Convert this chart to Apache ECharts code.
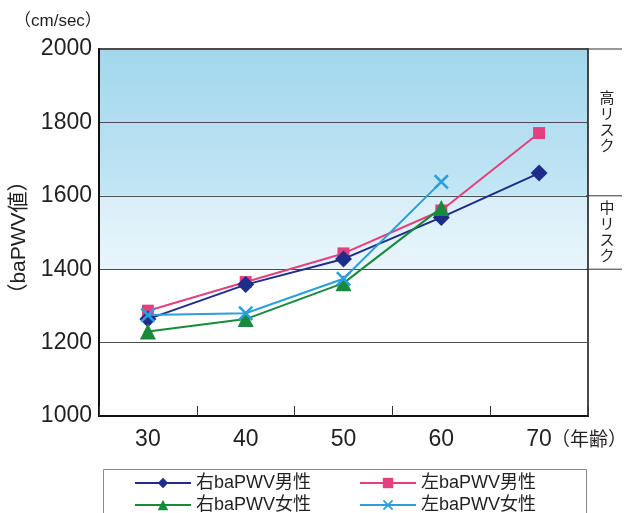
<!DOCTYPE html>
<html>
<head>
<meta charset="utf-8">
<script src="https://cdn.jsdelivr.net/npm/echarts@6/dist/echarts.min.js"></script>
<style>
  html, body { margin: 0; padding: 0; background: #ffffff; }
  #chart { width: 624px; height: 513px; }
</style>
</head>
<body>
<div id="chart"></div>
<script>
// Age groups (x categories)
const ages = ['30', '40', '50', '60', '70'];

// baPWV averages (cm/sec) by age group
const rightMale = [1264, 1358, 1428, 1541, 1662];
const leftMale = [1287, 1365, 1443, 1560, 1771];
const rightFemale = [1230, 1264, 1362, 1567, null];
const leftFemale = [1275, 1280, 1374, 1638, null];

const seriesNames = ['右baPWV男性', '左baPWV男性', '右baPWV女性', '左baPWV女性'];

// Risk zone boundaries and labels
const highRisk = [1600, 2000];
const midRisk = [1400, 1600];
const zoneLabels = ['高リスク', '中リスク'];

const FONT = '"Liberation Sans", "Noto Sans CJK JP", sans-serif';
const TEXT = '#231f20';

const crossPath = 'path://M0,1.2 L1.2,0 L10,8.8 L8.8,10 Z M8.8,0 L10,1.2 L1.2,10 L0,8.8 Z';

const chart = echarts.init(document.getElementById('chart'), null, { renderer: 'canvas' });

function lineSeries(name, data, color, symbol, size, extra) {
  return Object.assign({
    name: name,
    type: 'line',
    data: data,
    symbol: symbol,
    symbolSize: size,
    showAllSymbol: true,
    connectNulls: false,
    lineStyle: { color: color, width: 2 },
    itemStyle: { color: color },
    emphasis: { disabled: true }
  }, extra || {});
}

const legendCommon = {
  left: 134,
  itemWidth: 56,
  itemHeight: 13,
  itemGap: 48,
  padding: 0,
  textStyle: { fontFamily: FONT, fontSize: 18, color: TEXT, padding: [0, 0, 0, 0] },
  selectedMode: false
};

chart.setOption({
  animation: false,
  backgroundColor: '#ffffff',
  grid: {
    left: 99, right: 36, top: 49, bottom: 97,
    show: true, borderColor: '#111', borderWidth: 1.5, backgroundColor: 'transparent'
  },
  xAxis: {
    type: 'category',
    data: ages,
    boundaryGap: true,
    axisLine: { lineStyle: { color: '#111', width: 2 } },
    axisTick: { show: true, inside: true, length: 10, interval: 0, lineStyle: { color: '#333', width: 1 } },
    axisLabel: { fontFamily: FONT, fontSize: 23, color: TEXT, margin: 12 }
  },
  yAxis: {
    type: 'value',
    min: 1000, max: 2000, interval: 200,
    name: '（baPWV値）',
    nameLocation: 'middle',
    nameRotate: 90,
    nameGap: 64,
    nameTextStyle: { fontFamily: FONT, fontSize: 21, color: TEXT, padding: [0, 10, 0, 0] },
    axisLine: { show: true, lineStyle: { color: '#111', width: 2 } },
    axisTick: { show: false },
    axisLabel: { fontFamily: FONT, fontSize: 23, color: TEXT, margin: 7, formatter: v => String(v) },
    splitLine: { lineStyle: { color: '#4d4d4d', width: 1 } }
  },
  legend: [
    Object.assign({ top: 474, data: [seriesNames[0], seriesNames[1]] }, legendCommon),
    Object.assign({ top: 496, data: [seriesNames[2], seriesNames[3]] }, legendCommon)
  ],
  series: [
    // Risk-zone shading, kept beneath the grid lines
    {
      type: 'line',
      data: [],
      z: -1,
      silent: true,
      markArea: {
        z: -1,
        silent: true,
        data: [
          [{ yAxis: highRisk[0], itemStyle: {
              color: new echarts.graphic.LinearGradient(0, 0, 0, 1, [
                { offset: 0, color: '#a1d7ed' }, { offset: 1, color: '#c3e6f4' }
              ]) } }, { yAxis: highRisk[1] }],
          [{ yAxis: midRisk[0], itemStyle: {
              color: new echarts.graphic.LinearGradient(0, 0, 0, 1, [
                { offset: 0, color: '#d8eef8' }, { offset: 1, color: '#e9f6fb' }
              ]) } }, { yAxis: midRisk[1] }]
        ]
      }
    },
    lineSeries(seriesNames[0], rightMale, '#1f2d8a', 'diamond', 17, { z: 3 }),
    lineSeries(seriesNames[1], leftMale, '#e4407f', 'rect', 12, { z: 2 }),
    lineSeries(seriesNames[2], rightFemale, '#178a3b', 'triangle', 16, { z: 4 }),
    lineSeries(seriesNames[3], leftFemale, '#2a9fdb', crossPath, 15, { z: 5 })
  ]
});

// Side annotations: unit label, age label, risk zone separators and vertical zone labels
const yTop = chart.convertToPixel({ yAxisIndex: 0 }, highRisk[1]);
const yHighLow = chart.convertToPixel({ yAxisIndex: 0 }, highRisk[0]);
const yMidLow = chart.convertToPixel({ yAxisIndex: 0 }, midRisk[0]);
const xRight = chart.convertToPixel({ xAxisIndex: 0 }, ages[ages.length - 1]) + 47;
const yBottom = chart.convertToPixel({ yAxisIndex: 0 }, 1000);

function vertical(s) { return s.split('').join('\n'); }

chart.setOption({
  graphic: [
    { type: 'text', left: 14, top: 13,
      style: { text: '（cm/sec）', fontFamily: FONT, fontSize: 17, fill: TEXT } },
    { type: 'text', x: xRight - 35, y: yBottom + 25,
      style: { text: '（年齢）', fontFamily: FONT, fontSize: 19, fill: TEXT, verticalAlign: 'middle' } },
    { type: 'line', shape: { x1: xRight, y1: yTop, x2: 622, y2: yTop }, style: { stroke: '#333', lineWidth: 1 } },
    { type: 'line', shape: { x1: xRight, y1: yHighLow, x2: 622, y2: yHighLow }, style: { stroke: '#333', lineWidth: 1 } },
    { type: 'line', shape: { x1: xRight, y1: yMidLow, x2: 622, y2: yMidLow }, style: { stroke: '#333', lineWidth: 1 } },
    { type: 'text', x: 607, y: (yTop + yHighLow) / 2,
      style: { text: vertical(zoneLabels[0]), fontFamily: FONT, fontSize: 15, lineHeight: 16,
               fill: TEXT, align: 'center', verticalAlign: 'middle' } },
    { type: 'text', x: 607, y: (yHighLow + yMidLow) / 2,
      style: { text: vertical(zoneLabels[1]), fontFamily: FONT, fontSize: 15, lineHeight: 16,
               fill: TEXT, align: 'center', verticalAlign: 'middle' } },
    { type: 'rect', shape: { x: 103.5, y: 469.5, width: 483, height: 60 },
      style: { fill: 'none', stroke: '#8a8a8a', lineWidth: 1 }, z: -1 }
  ]
});
</script>
</body>
</html>
